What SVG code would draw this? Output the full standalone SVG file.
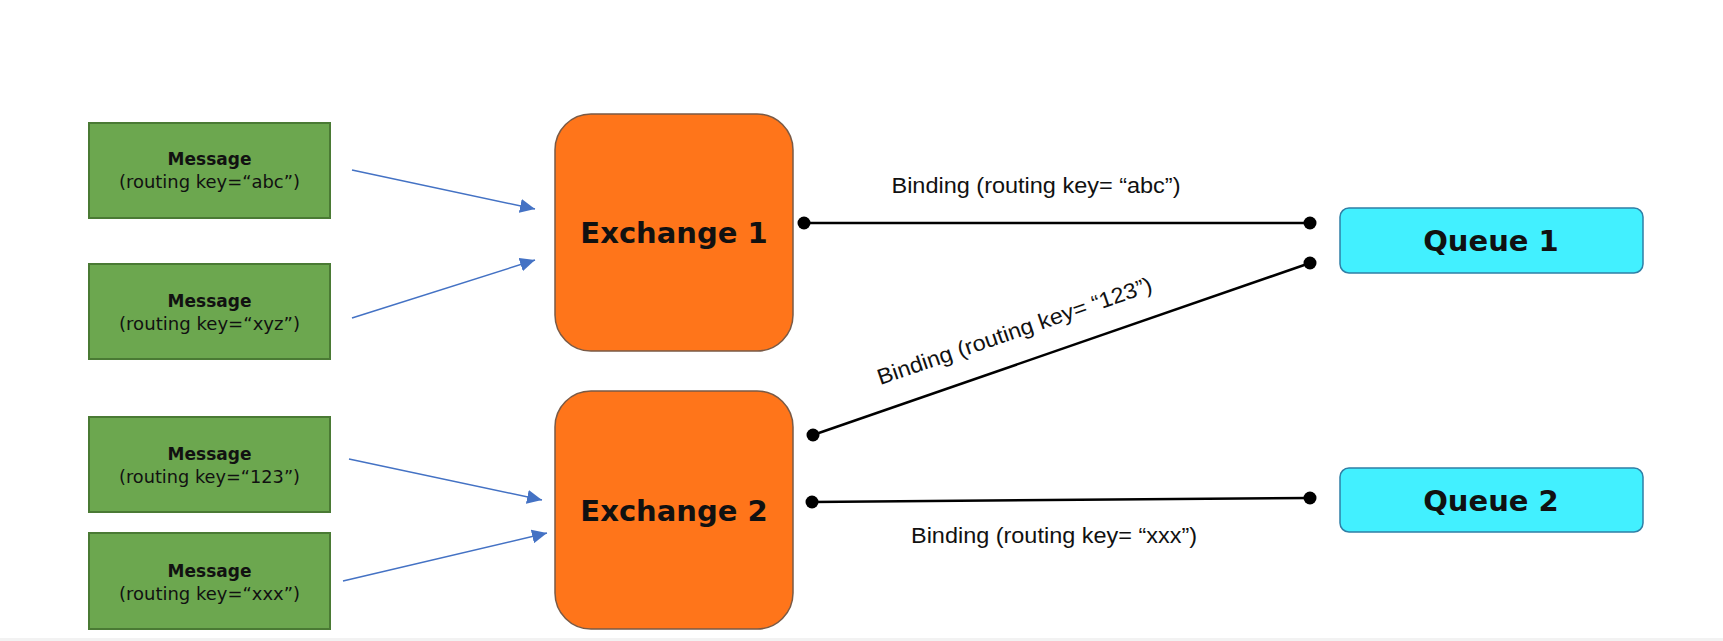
<svg xmlns="http://www.w3.org/2000/svg" width="1723" height="641" viewBox="0 0 1723 641">
<style>
.msg rect{fill:#6ca74f;stroke:#4a7a34;stroke-width:2}
.msg text{font-family:"DejaVu Sans",Verdana,sans-serif;font-size:17px;fill:#111;text-anchor:middle}
.msg .t{font-weight:bold}
.ex rect{fill:#ff751a;stroke:#7a5a45;stroke-width:1.5}
.q rect{fill:#42f0ff;stroke:#2f7fa6;stroke-width:1.5}
.big{font-family:"DejaVu Sans",Verdana,sans-serif;font-weight:bold;font-size:29px;fill:#111;text-anchor:middle}
.arrow{stroke:#4472c4;stroke-width:1.5;fill:none;marker-end:url(#ah)}
.bind{stroke:#000;stroke-width:2.5;fill:none}
.dot{fill:#000}
.lbl{font-family:"Liberation Sans",Arial,sans-serif;font-size:22px;fill:#111;text-anchor:middle}
</style>
<defs>
<marker id="ah" markerUnits="userSpaceOnUse" markerWidth="16" markerHeight="14" refX="15" refY="7" orient="auto">
<path d="M0,0 L15,7 L0,14 z" fill="#4472c4"/>
</marker>
</defs>
<rect x="0" y="0" width="1723" height="641" fill="#fff"/>
<rect x="0" y="638" width="1723" height="3" fill="#f2f2f2"/>

<g id="msg1" class="msg">
<rect x="89" y="123" width="241" height="95"/>
<text class="t" x="209.5" y="165">Message</text>
<text x="209.5" y="188" textLength="181" lengthAdjust="spacingAndGlyphs">(routing key=“abc”)</text>
</g>
<g id="msg2" class="msg">
<rect x="89" y="264" width="241" height="95"/>
<text class="t" x="209.5" y="307">Message</text>
<text x="209.5" y="330" textLength="181" lengthAdjust="spacingAndGlyphs">(routing key=“xyz”)</text>
</g>
<g id="msg3" class="msg">
<rect x="89" y="417" width="241" height="95"/>
<text class="t" x="209.5" y="460">Message</text>
<text x="209.5" y="483" textLength="181" lengthAdjust="spacingAndGlyphs">(routing key=“123”)</text>
</g>
<g id="msg4" class="msg">
<rect x="89" y="533" width="241" height="96"/>
<text class="t" x="209.5" y="577">Message</text>
<text x="209.5" y="600" textLength="181" lengthAdjust="spacingAndGlyphs">(routing key=“xxx”)</text>
</g>

<g id="exchange1" class="ex">
<rect x="555" y="114" width="238" height="237" rx="36" ry="36"/>
<text class="big" x="674" y="243">Exchange 1</text>
</g>
<g id="exchange2" class="ex">
<rect x="555" y="391" width="238" height="238" rx="36" ry="36"/>
<text class="big" x="674" y="521">Exchange 2</text>
</g>

<g id="queue1" class="q">
<rect x="1340" y="208" width="303" height="65" rx="9" ry="9"/>
<text class="big" x="1491" y="251">Queue 1</text>
</g>
<g id="queue2" class="q">
<rect x="1340" y="468" width="303" height="64" rx="9" ry="9"/>
<text class="big" x="1491" y="511">Queue 2</text>
</g>

<g id="connectors">
<line class="arrow" x1="352" y1="170" x2="535" y2="209"/>
<line class="arrow" x1="352" y1="318" x2="535" y2="260"/>
<line class="arrow" x1="349" y1="459" x2="542" y2="500"/>
<line class="arrow" x1="343" y1="581" x2="547" y2="533"/>

<line class="bind" x1="804" y1="223" x2="1310" y2="223"/>
<circle class="dot" cx="804" cy="223" r="6.5"/>
<circle class="dot" cx="1310" cy="223" r="6.5"/>

<line class="bind" x1="813" y1="435" x2="1310" y2="263"/>
<circle class="dot" cx="813" cy="435" r="6.5"/>
<circle class="dot" cx="1310" cy="263" r="6.5"/>

<line class="bind" x1="812" y1="502" x2="1310" y2="498"/>
<circle class="dot" cx="812" cy="502" r="6.5"/>
<circle class="dot" cx="1310" cy="498" r="6.5"/>

<text class="lbl" x="1036" y="193" textLength="289" lengthAdjust="spacingAndGlyphs">Binding (routing key= “abc”)</text>
<text class="lbl" x="1017" y="338" textLength="289" lengthAdjust="spacingAndGlyphs" transform="rotate(-19 1017 338)">Binding (routing key= “123”)</text>
<text class="lbl" x="1054" y="543" textLength="286" lengthAdjust="spacingAndGlyphs">Binding (routing key= “xxx”)</text>
</g>
</svg>
